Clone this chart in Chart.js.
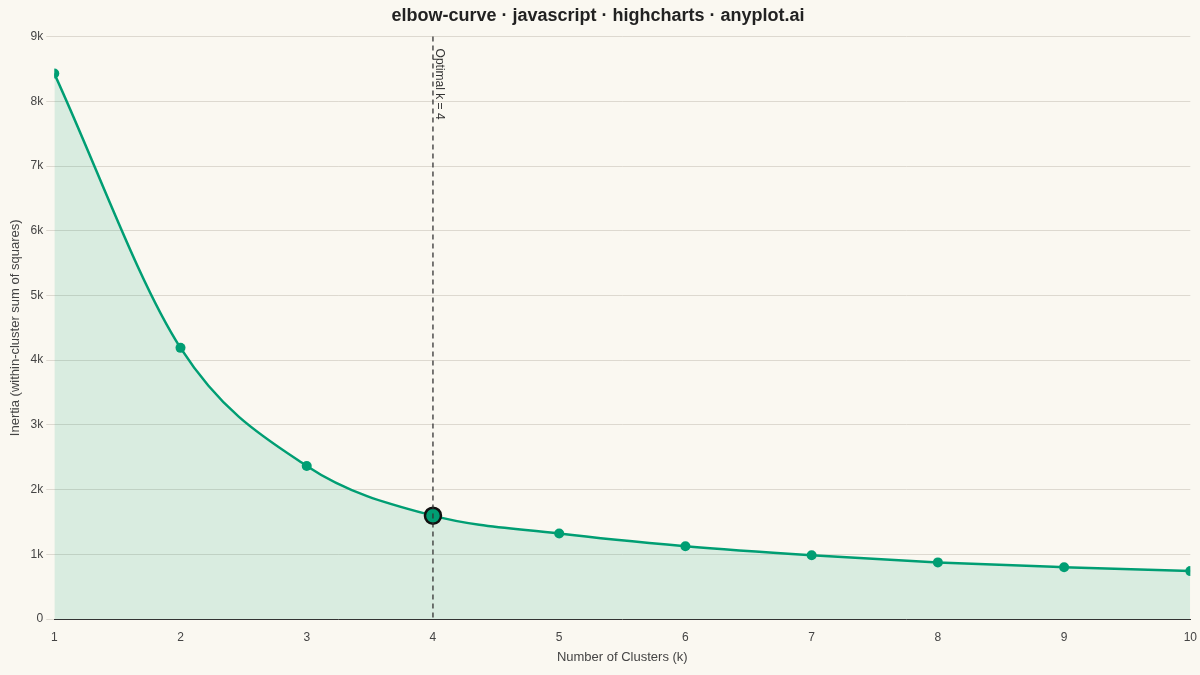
<!DOCTYPE html>
<html><head><meta charset="utf-8">
<script src="https://cdn.jsdelivr.net/npm/chart.js@4"></script>
<style>html,body{margin:0;background:#FAF8F1;}#w{width:1200px;height:675px;}</style>
</head><body><div id="w"><canvas id="c"></canvas></div>
<script>
const clusters = [1,2,3,4,5,6,7,8,9,10];
const inertia = [8430,4190,2365,1597,1320,1125,985,875,800,740];
const optimalK = 4;
const yTicks = [0,1000,2000,3000,4000,5000,6000,7000,8000,9000];
const green = '#009E73';
const vline = {
  id:'vline',
  afterDatasetsDraw(ch){
    const {ctx, chartArea:a, scales:{x}} = ch;
    const px = x.getPixelForValue(optimalK);
    ctx.save();
    ctx.strokeStyle='#333'; ctx.lineWidth=1.3; ctx.setLineDash([5,4]);
    ctx.beginPath(); ctx.moveTo(px,a.top); ctx.lineTo(px,a.bottom); ctx.stroke();
    ctx.setLineDash([]);
    ctx.translate(px+6, a.top+12); ctx.rotate(Math.PI/2);
    ctx.fillStyle='#333'; ctx.font='12px "Liberation Sans", Arial'; ctx.textBaseline='middle';
    ctx.fillText('Optimal k = '+optimalK,0,0);
    ctx.restore();
  }
};
new Chart(document.getElementById('c'),{
  type:'line',
  data:{datasets:[{
    data: clusters.map((k,i)=>({x:k,y:inertia[i]})),
    borderColor:green, borderWidth:2.5, fill:'origin', backgroundColor:'rgba(0,158,115,0.13)',
    cubicInterpolationMode:'monotone',
    pointRadius: clusters.map(k=>k===optimalK?8:5),
    pointBackgroundColor:green,
    pointBorderColor: clusters.map(k=>k===optimalK?'#111':green),
    pointBorderWidth: clusters.map(k=>k===optimalK?2.5:0),
  }]},
  options:{
    responsive:true, maintainAspectRatio:false, animation:false,
    layout:{padding:{left:4,right:8,top:0,bottom:6}},
    plugins:{legend:{display:false}, tooltip:{enabled:false},
      title:{display:true,text:'elbow-curve · javascript · highcharts · anyplot.ai',color:'#222',
        font:{family:'"Liberation Sans", Arial',size:18,weight:'bold'},padding:{top:5,bottom:10}}},
    scales:{
      x:{type:'linear',min:1,max:10,
        ticks:{stepSize:1,color:'#444',font:{family:'"Liberation Sans", Arial',size:12}},
        grid:{display:false,drawTicks:true}, border:{color:'#333'},
        title:{display:true,text:'Number of Clusters (k)',color:'#444',font:{family:'"Liberation Sans", Arial',size:13},padding:{top:2}}},
      y:{min:0,max:9000,afterBuildTicks:s=>{s.ticks=yTicks.map(v=>({value:v}));},
        ticks:{color:'#444',font:{family:'"Liberation Sans", Arial',size:12},callback:v=>v===0?'0':(v/1000)+'k'},
        grid:{color:'#ddd9d0'}, border:{display:false},
        title:{display:true,text:'Inertia (within-cluster sum of squares)',color:'#444',font:{family:'"Liberation Sans", Arial',size:13}}}
    }
  },
  plugins:[vline]
});
</script></body></html>
